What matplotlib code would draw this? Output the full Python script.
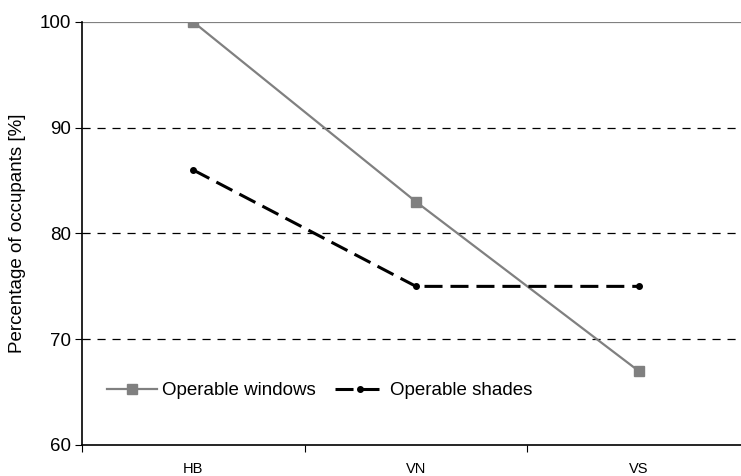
import matplotlib.pyplot as plt

plt.rcParams['font.family'] = ['Liberation Sans', 'DejaVu Sans']

# data
categories = ['HB', 'VN', 'VS']
windows = [100, 83, 67]
shades = [86, 75, 75]

fig = plt.figure(figsize=(7.41, 4.76), dpi=100)
ax = fig.add_axes([82 / 741, 1 - 445 / 476, 668 / 741, 423 / 476])

x = range(len(categories))
ax.plot(x, windows, color='#808080', lw=1.6, marker='s', ms=6.5,
        label='Operable windows', zorder=3)
ax.plot(x, shades, color='black', lw=2.2, dashes=(5.9, 2.6), marker='o', ms=4,
        label='Operable shades', zorder=3)

ax.set_xlim(-0.5, 2.5)
ax.set_ylim(60, 100)
ax.set_yticks([60, 70, 80, 90, 100])
for v in [70, 80, 90]:
    ax.axhline(v, color='black', lw=0.9, dashes=(6.5, 5.5), zorder=1)
ax.axhline(100, color='#808080', lw=1.6, zorder=1)

ax.set_xticks([-0.5, 0.5, 1.5, 2.5])
ax.set_xticklabels([])
ax.set_xticks(list(x), minor=True)
ax.set_xticklabels(categories, minor=True, fontsize=10.5)
ax.tick_params(axis='x', which='minor', length=0, pad=12)
ax.tick_params(axis='x', which='major', length=5, direction='out')
ax.tick_params(axis='y', labelsize=13.5, length=5, pad=3)

for s in ['top', 'right']:
    ax.spines[s].set_visible(False)
ax.spines['left'].set_linewidth(1.2)
ax.spines['bottom'].set_linewidth(1.2)

ax.set_ylabel('Percentage of occupants [%]', fontsize=13.5, labelpad=10)

ax.legend(loc='center left', bbox_to_anchor=(0.026, 0.128), ncol=2, frameon=False,
          fontsize=13.5, handlelength=2.7, columnspacing=1.0, handletextpad=0.25,
          borderaxespad=0)

fig.savefig('out.png', dpi=100)
